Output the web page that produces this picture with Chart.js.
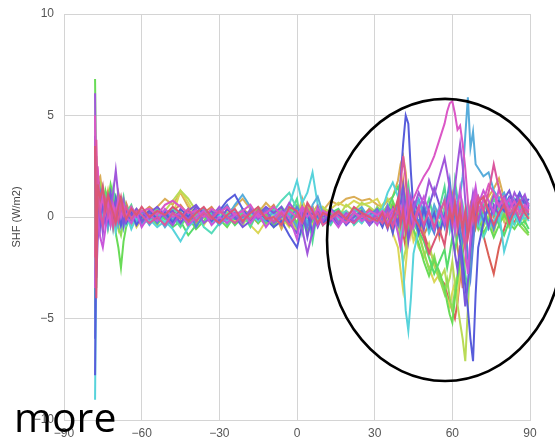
<!DOCTYPE html>
<html>
<head>
<meta charset="utf-8">
<script src="https://cdn.jsdelivr.net/npm/chart.js@4/dist/chart.umd.min.js"></script>
<style>
html,body{margin:0;padding:0;background:#fff;}
#wrap{position:relative;width:555px;height:442px;}
</style>
</head>
<body>
<div id="wrap"><canvas id="c" width="555" height="442"></canvas></div>
<script>
// Latitude (degrees) shared by every series
const lats = [
  -78,-77.5,-77,-76,-75,-74,-73,-72,-71,-70,-69,-68,-67,-66,-64,-62,-60,
  -57,-54,-51,-48,-45,-42,-39,-36,-33,-30,-27,-24,-21,-18,-15,-12,-9,-6,-3,0,2,4,6,8,10,13,16,19,22,25,28,31,
  33,35,37,39,40,41,42,43,44,45, 47,49,51,53,55,57, 58,59,60,61,62,63,64,65,66,67,68,69,70, 72,74,76,78,80,82,84,86,88, 89.5
];
const xTicks = [-90,-60,-30,0,30,60,90];
const yTicks = [-10,-5,0,5,10];

// SHF (W/m2) series
const s00 = [-3.0,1.5,2.2,1.2,0.6,0.9,0.2,0.6,-0.3,0.4,-0.2,0.3,-0.5,0.2,-0.3,0.2,0.0,
  0.3,-0.2,0.1,0.4,0.0,-0.3,0.2,0.1,-0.2,0.3,0.0,0.2,-0.3,0.1,0.4,0.0,0.2,-0.2,0.5,-0.4,0.3,0.6,-0.3,0.2,0.4,0.0,0.3,-0.1,0.2,0.0,0.4,0.1,
  0.3,-0.2,0.6,-0.5,-1.2,-0.8,-1.5,-0.6,0.3,-0.4, 0.5,-0.8,-1.6,-2.2,-3.0,-3.3, -3.8,-4.2,-4.6,-5.0,-4.2,-3.0,-1.8,-0.9,-0.2,0.5,-0.6,0.2,-0.4, -0.9,-1.9,-2.8,-1.5,-0.6,0.2,-0.3,0.4,0.1, 0.3];
const s01 = [3.0,-1.0,1.8,2.0,1.0,0.6,1.3,0.5,0.9,0.2,0.6,-0.2,0.4,0.1,0.3,-0.1,0.2,
  0.1,0.5,0.9,0.6,1.2,0.5,0.2,0.4,0.0,-0.3,0.2,0.5,0.9,0.4,0.2,0.7,0.3,-0.6,0.2,0.4,-0.2,0.5,0.2,0.6,0.3,0.8,0.6,0.9,1.0,0.8,0.9,0.6,
  0.5,0.8,1.0,1.8,2.6,3.0,2.2,0.5,-0.8,0.2, -0.5,0.3,-0.6,0.2,-0.4,0.5, -0.2,0.6,-0.5,0.3,-0.2,0.7,0.1,-0.6,0.4,-0.3,0.5,0.0,0.8, 0.4,1.0,1.4,1.9,0.9,0.4,0.7,0.2,0.5, 0.0];
const s02 = [-2.5,2.0,1.0,0.4,1.1,0.3,0.8,-0.2,0.5,-0.4,0.3,0.6,0.0,-0.3,0.2,-0.5,-0.1,
  -0.3,0.2,-0.4,0.1,1.3,0.7,0.0,-0.4,0.2,-0.1,0.3,-0.2,0.1,-0.4,-0.8,-0.2,0.3,0.0,-0.5,0.2,0.8,0.1,-0.4,0.3,0.0,0.4,0.7,0.5,0.8,0.6,0.7,0.9,
  0.4,0.0,-0.8,-1.5,-2.6,-3.6,-2.4,-1.0,-0.3,-1.2, -0.6,-1.8,-2.5,-3.2,-2.8,-3.6, -4.0,-4.4,-3.7,-3.2,-4.0,-2.5,-1.4,-0.5,0.3,-0.4,0.2,-0.3,0.5, -0.2,0.6,1.2,1.0,0.3,-0.2,0.4,-0.3,0.2, -0.1];
const s03 = [1.0,-2.0,0.5,1.4,0.2,0.7,-0.4,0.9,0.3,0.0,-0.6,0.2,-0.3,0.5,0.0,0.3,-0.2,
  0.4,0.0,0.3,0.8,1.3,0.9,0.3,0.0,-0.3,0.1,-0.2,0.3,-0.4,0.2,0.0,-0.4,0.1,0.4,-0.1,-0.7,0.1,-0.4,0.3,-0.2,0.5,0.2,0.0,0.6,0.3,0.7,0.5,0.2,
  0.6,0.9,0.3,-0.6,-1.4,-2.2,-1.6,-0.4,0.2,-0.7, -1.5,-2.0,-1.3,-2.4,-3.1,-2.6, -3.4,-3.0,-2.2,-3.3,-4.3,-5.2,-6.0,-7.1,-4.5,-2.0,-1.0,-0.4,0.2, -0.5,0.1,-0.8,0.3,-0.2,0.5,0.0,0.3,-0.3, 0.2];
const s04 = [-1.5,3.0,0.8,1.5,0.6,1.2,0.4,1.0,0.0,0.5,-0.5,-0.9,-0.2,0.3,-0.4,0.1,-0.3,
  0.0,-0.4,0.2,-0.2,0.3,-0.5,0.1,0.3,-0.1,0.4,0.1,-0.3,0.2,0.0,0.5,0.2,-0.4,0.3,0.0,0.6,-0.5,0.2,0.5,-0.1,0.3,-0.3,0.2,0.0,0.4,0.1,-0.2,0.5,
  0.2,0.6,-0.2,0.4,-0.8,-0.3,0.6,-0.5,0.8,0.1, -0.9,-1.7,-2.6,-1.9,-3.0,-3.8, -3.1,-4.0,-4.6,-3.6,-2.8,-1.9,-1.0,-0.3,0.6,-0.4,0.3,-0.2,-0.6, 0.2,-0.4,0.5,-0.3,0.2,-0.5,0.3,-0.4,-0.7, -0.9];
const s05 = [6.8,0.5,-0.5,1.0,0.3,1.3,0.8,1.6,1.0,-0.8,-1.5,-2.5,-1.2,-0.5,0.2,-0.3,0.1,
  -0.2,0.3,-0.1,0.2,-0.4,0.0,-0.6,-0.2,0.2,-0.1,-0.5,0.1,-0.2,0.3,-0.3,0.1,-0.5,0.2,0.4,-0.3,0.5,-0.8,0.0,0.4,-0.2,0.3,-0.1,0.2,-0.3,0.4,0.0,-0.2,
  0.3,-0.4,0.8,0.1,-0.5,0.4,-0.9,-0.2,0.5,-0.6, -1.3,-2.2,-2.9,-2.1,-2.7,-3.5, -4.2,-4.8,-5.2,-4.0,-3.1,-2.2,-1.1,-0.4,0.3,-0.6,0.2,-0.5,0.1, -0.8,-0.3,-1.0,-0.4,0.1,-0.3,-0.6,-0.2,-0.5, -0.8];
const s06 = [-4.0,2.5,1.2,0.5,1.4,0.6,0.9,0.1,0.6,1.0,0.3,0.7,-0.3,0.4,-0.2,0.3,-0.1,
  0.2,-0.3,0.0,-0.5,-0.2,-0.9,-0.4,0.0,0.3,-0.2,0.1,-0.4,0.0,0.3,0.1,-0.3,0.4,0.1,-0.4,0.3,0.0,0.4,-0.2,0.1,-0.4,0.2,0.4,-0.2,0.1,-0.3,0.3,0.0,
  -0.3,0.4,1.0,1.5,0.8,1.2,0.2,-0.8,-0.2,0.5, -0.7,-1.2,-2.0,-2.8,-2.2,-1.6, -2.5,-1.8,-1.0,-1.7,-0.9,-0.2,0.4,-0.3,0.5,-0.1,0.6,0.0,-0.5, 0.3,-0.2,0.4,-0.4,-0.9,-0.2,0.2,-0.4,-0.2, -0.6];
const s07 = [2.0,-3.5,0.3,0.9,-0.4,0.5,0.0,0.4,-0.6,0.2,0.6,-0.1,0.3,-0.4,0.1,-0.2,0.3,
  0.0,0.2,-0.3,0.4,0.1,-0.2,0.3,-0.5,-0.8,-0.3,0.2,0.0,0.4,-0.1,0.2,-0.2,0.3,0.8,1.2,0.4,-0.3,0.2,-0.6,0.0,0.3,-0.2,0.1,0.3,-0.4,0.0,0.2,-0.3,
  0.0,0.3,-0.3,0.6,1.1,0.4,-0.4,0.3,-0.6,0.2, 0.8,0.0,-0.7,0.3,-0.5,0.4, -0.3,0.8,0.1,-0.8,0.3,-0.4,0.6,-0.2,0.4,-0.7,0.0,0.6,-0.3, -1.0,-0.4,0.3,-0.2,0.5,0.0,-0.4,0.2,-0.1, 0.1];
const s08 = [-9.0,-1.0,0.2,-0.6,0.4,-0.2,0.6,-0.4,0.3,-0.7,0.0,0.4,-0.5,0.2,-0.6,0.0,-0.4,
  -0.1,-0.5,-0.2,-0.6,-1.2,-0.5,-0.1,0.2,-0.3,0.1,-0.2,0.3,-0.1,0.2,-0.2,0.4,0.1,-0.3,0.6,1.8,0.7,1.2,2.2,0.6,-0.2,0.3,-0.1,0.2,0.0,-0.3,0.2,-0.1,
  0.4,1.2,1.7,1.0,-0.5,-2.5,-4.6,-5.6,-4.0,-1.8, -0.6,0.3,-0.8,-0.2,0.5,-0.4, 0.2,-0.6,0.3,-0.3,0.5,-0.2,0.2,-0.8,-0.3,0.4,-0.5,0.2,-0.4, 0.1,-0.6,-0.2,0.3,-1.7,-0.8,0.1,-0.3,0.2, -0.2];
const s09 = [-5.0,1.0,-0.6,0.3,-0.3,0.4,-0.5,0.1,-0.2,0.5,-0.4,0.1,0.5,-0.2,0.3,-0.3,0.2,
  -0.4,0.1,-0.5,0.0,-0.3,0.2,-0.2,0.4,0.1,-0.4,0.0,0.6,1.1,0.5,0.0,-0.2,0.3,-0.4,0.2,-0.5,0.3,-0.3,0.6,1.0,0.2,-0.3,0.3,-0.2,0.2,0.5,-0.1,0.3,
  -0.2,0.6,0.0,0.7,1.4,0.6,-0.3,0.5,-0.5,0.3, 0.9,0.2,-0.4,0.6,0.0,0.9, 0.3,1.2,0.5,1.4,0.8,1.1,2.0,4.0,5.9,3.4,4.2,2.6,2.4, 2.0,2.2,1.3,0.9,1.2,0.6,0.9,0.4,1.0, 0.6];
const s10 = [-7.8,0.4,-0.9,0.1,-0.5,0.3,-0.2,0.5,0.0,0.9,0.2,-0.4,0.1,-0.3,0.2,-0.4,0.0,
  0.3,-0.1,0.2,-0.3,0.4,0.0,0.5,0.2,-0.2,0.3,0.8,1.1,0.4,-0.2,0.3,-0.1,-0.5,-0.2,-0.9,-1.5,-0.4,0.2,-0.8,0.3,-0.3,0.1,-0.4,0.0,-0.3,0.2,-0.4,0.0,
  -0.5,0.2,-0.8,0.5,1.8,3.6,5.0,4.6,2.2,0.3, -0.8,0.4,-0.5,0.2,-0.8,0.1, -0.5,0.4,-0.3,0.6,-0.4,-1.2,-2.2,-3.4,-4.5,-6.0,-7.1,-3.8,-1.5, -0.3,0.6,0.2,0.8,0.3,1.0,0.7,1.2,0.6, 0.9];
const s11 = [4.0,-2.5,0.6,-0.4,0.8,-0.1,0.5,1.2,0.4,0.8,0.0,0.5,-0.4,0.3,0.1,0.4,-0.2,
  0.2,0.5,0.1,0.3,-0.3,0.3,0.6,0.1,0.3,-0.2,0.4,0.0,-0.5,-0.2,0.1,0.5,0.2,0.5,-0.3,-0.8,0.4,-1.0,0.2,-0.5,0.1,-0.2,0.2,-0.4,0.0,0.3,-0.3,0.2,
  0.1,-0.6,0.4,-0.3,0.6,1.5,0.4,-1.2,-0.4,0.8, 0.2,-0.6,0.5,1.4,0.6,-0.4, 0.8,0.1,-0.8,-1.8,-2.6,-1.4,-3.0,-4.4,-3.2,-1.6,-0.5,0.3,1.0, 0.4,-0.5,0.6,0.1,0.9,1.3,0.5,1.1,0.8, 0.4];
const s12 = [6.1,-3.0,-1.2,0.5,-0.8,0.4,1.0,0.3,1.2,2.3,1.0,0.2,0.8,-0.2,0.4,0.0,0.3,
  -0.1,0.3,0.0,-0.4,0.2,-0.1,0.4,-0.3,0.0,0.5,-0.1,0.2,-0.3,0.4,-0.1,0.3,-0.3,0.0,0.7,0.2,-0.6,-1.8,-0.7,0.5,-0.2,0.4,-0.3,0.2,-0.2,0.1,-0.4,0.3,
  -0.1,0.5,-0.4,0.3,-0.2,0.8,-0.5,0.2,1.0,0.4, 1.2,0.6,1.8,1.1,2.0,2.9, 2.2,1.4,0.6,1.5,2.6,3.6,2.5,0.8,-0.6,0.3,1.2,0.5,-0.2, 0.9,0.3,1.1,0.6,1.0,0.4,1.2,0.7,1.1, 0.5];
const s13 = [-3.5,2.0,0.0,-1.0,-1.5,-0.6,0.2,-0.4,0.5,-0.2,0.6,0.0,0.4,0.0,-0.3,0.2,-0.5,
  0.1,-0.2,0.4,0.0,0.2,-0.4,0.0,0.3,-0.4,0.0,-0.3,0.1,0.3,-0.3,0.2,-0.5,0.0,0.3,0.0,-1.1,0.4,0.0,0.4,-0.4,0.3,0.0,-0.5,0.1,0.3,-0.2,0.1,-0.4,
  0.2,-0.3,0.2,-0.8,-1.5,-0.6,0.4,1.2,0.3,-0.5, 0.4,1.0,0.2,-0.6,0.4,-0.3, 0.6,1.2,0.2,-0.7,0.5,1.4,0.2,-1.6,-2.8,-1.0,0.8,1.5,0.6, 1.3,0.8,0.2,1.4,0.5,0.9,0.2,0.8,0.3, 0.7];
const s14 = [5.0,0.0,2.5,0.3,1.0,0.2,0.7,-0.3,0.6,0.1,0.9,0.4,0.6,0.0,0.5,0.1,0.3,
  0.4,0.1,0.6,0.8,0.5,0.2,0.3,0.0,0.4,0.2,0.5,0.1,0.3,0.6,0.0,0.2,0.5,0.1,0.3,0.0,0.5,0.3,0.0,0.4,0.1,0.3,0.0,-0.3,0.2,0.0,0.3,0.1,
  0.3,0.0,0.4,0.2,0.5,0.0,-0.4,0.3,0.6,0.9, 1.5,2.0,2.4,3.0,3.8,4.6, 5.2,5.6,5.7,5.1,4.3,4.5,3.6,2.4,0.8,-0.5,0.4,1.0,0.3, 0.8,1.6,1.2,0.5,0.9,0.3,0.8,0.2,0.6, 0.3];
const s15 = [-2.0,3.8,0.9,0.2,-0.4,0.8,0.1,0.6,-0.5,0.3,-0.2,0.6,0.1,0.5,-0.1,0.3,0.1,
  -0.3,0.0,-0.4,0.2,-0.1,0.4,-0.2,0.2,-0.1,0.3,0.0,-0.3,0.1,-0.1,0.3,0.0,-0.2,0.2,-0.4,0.1,-0.3,0.4,-0.1,0.2,-0.4,-0.1,0.2,-0.1,-0.3,0.1,-0.2,0.0,
  -0.3,0.2,-0.5,0.4,1.6,3.0,1.8,0.2,-0.7,-0.2, 0.5,-0.4,0.3,-0.5,0.2,0.8, -0.4,0.5,-0.3,0.8,-0.6,0.2,-0.8,-1.4,-0.6,0.4,-0.2,0.6,1.0, 0.3,1.2,2.6,1.4,0.6,0.1,0.5,-0.1,0.4, 0.2];
const s16 = [-4.5,1.2,0.4,-0.3,0.9,1.1,0.3,-0.2,0.8,0.4,1.2,0.6,0.2,0.7,0.0,0.4,0.2,
  0.5,0.2,-0.1,0.3,0.6,0.1,-0.3,0.2,0.5,0.0,0.3,-0.2,0.4,0.1,-0.3,0.2,0.6,-0.1,0.2,-0.6,0.9,0.0,0.5,-0.2,0.4,0.1,-0.2,0.3,0.0,-0.2,0.4,0.2,
  0.0,-0.4,0.3,-0.2,0.8,1.8,0.6,-0.9,0.4,-0.3, 0.2,-0.9,-0.3,0.5,-1.0,0.3, -0.6,0.2,1.0,-0.5,-1.5,-2.4,-3.5,-2.0,-0.8,0.5,-0.3,0.9,0.2, -0.4,0.7,0.0,0.6,-0.2,0.8,0.3,0.6,0.1, 0.4];
const s17 = [2.8,-1.8,1.4,0.7,0.0,0.9,-0.5,0.3,1.4,0.6,-0.3,0.4,1.0,0.2,0.6,-0.2,0.1,
  -0.2,0.4,0.2,0.0,-0.5,0.3,0.1,-0.3,0.2,0.4,-0.4,0.0,0.2,-0.5,0.3,0.0,-0.2,0.5,0.1,0.9,-0.8,0.3,-1.2,0.4,0.0,-0.4,0.3,0.0,0.4,0.1,-0.1,0.3,
  0.4,0.1,-0.2,0.7,0.2,-0.6,0.9,1.6,0.5,-0.3, -0.8,0.1,0.9,-0.2,0.4,1.5, 0.5,-0.6,0.3,1.8,0.9,-0.5,-1.8,-2.8,-3.6,-2.2,-0.9,0.4,-0.2, 0.6,0.2,0.9,0.4,0.7,0.0,0.6,0.9,0.3, 0.6];
const s18 = [-6.0,0.8,-0.4,1.2,0.4,-0.2,0.6,0.9,-0.1,0.3,0.7,-0.4,0.2,0.5,-0.2,0.3,-0.3,
  0.2,-0.3,0.3,-0.2,0.0,0.4,-0.5,0.1,-0.2,0.2,0.6,-0.1,0.0,0.3,-0.1,0.4,-0.3,0.2,-0.2,0.5,0.1,-0.5,0.2,0.0,-0.3,0.4,0.1,-0.2,0.2,-0.1,0.1,0.4,
  -0.1,0.5,0.2,-0.4,0.4,-0.2,0.3,0.8,-0.2,0.5, -0.3,0.6,-0.2,-0.8,0.3,-0.5, 0.9,1.8,0.6,-0.4,0.8,-0.6,-1.2,-0.3,-2.0,-3.0,-1.4,0.2,0.6, -0.2,0.4,-0.6,0.2,0.5,-0.1,0.4,-0.2,0.5, 0.1];
const s19 = [3.5,-4.0,1.6,0.9,1.5,0.4,1.1,0.6,0.2,-0.3,0.5,1.0,0.3,-0.1,0.4,0.1,0.5,
  0.0,0.3,0.1,0.5,0.2,-0.2,0.2,0.5,0.0,-0.3,0.1,0.4,-0.2,0.2,0.5,-0.1,0.0,-0.4,0.5,0.3,-0.2,0.7,0.3,-0.3,0.2,0.0,0.3,-0.1,0.5,0.2,0.0,-0.2,
  0.2,-0.5,0.0,0.9,-0.4,0.3,-0.8,-0.2,0.6,0.0, -0.4,-1.0,-1.8,-1.2,-0.6,-1.4, -0.5,0.3,-0.2,0.6,-0.3,0.4,-0.6,0.3,-1.0,-0.2,0.5,-0.4,0.7, 1.0,0.3,-0.4,0.2,0.6,-0.3,0.3,0.8,0.2, -0.1];

// Series in palette order (first = red hue, last = pink hue)
const seriesList = [s00,s16,s01,s02,s03,s04,s05,s06,s17,s07,s08,s09,s18,s10,s11,s12,s13,s14,s15,s19];
const n = seriesList.length;
// seaborn "hls" palette: evenly spaced hues, l=0.6, s=0.65
const colors = seriesList.map((_, i) => `hsl(${(3.6 + i * 360 / n).toFixed(1)}, 65%, 60%)`);

const datasets = seriesList.map((s, i) => ({
  label: 'run ' + (i + 1),
  data: lats.map((x, j) => ({ x: x, y: s[j] })),
  borderColor: colors[i],
  backgroundColor: colors[i],
  borderWidth: 2,
  pointRadius: 0,
  tension: 0,
  fill: false,
  order: n - 1 - i
}));

const minus = v => String(v).replace('-', '\u2212');

const annot = {
  id: 'annot',
  afterDraw(chart) {
    const ctx = chart.ctx;
    const xs = chart.scales.x, ys = chart.scales.y;
    const cx = xs.getPixelForValue(57.2), cy = ys.getPixelForValue(-1.13);
    const rx = xs.getPixelForValue(57.2 + 45.6) - cx;
    const ry = ys.getPixelForValue(-1.13 - 6.95) - cy;
    ctx.save();
    ctx.beginPath();
    ctx.ellipse(cx, cy, rx, ry, 0, 0, Math.PI * 2);
    ctx.strokeStyle = '#000';
    ctx.lineWidth = 2.6;
    ctx.stroke();
    ctx.fillStyle = '#000';
    ctx.font = '41px "Open Sans"';
    ctx.textBaseline = 'alphabetic';
    ctx.fillText('more', 14, 432);
    ctx.restore();
  }
};
const bg = {
  id: 'bg',
  beforeDraw(chart) {
    const ctx = chart.ctx;
    ctx.save();
    ctx.fillStyle = '#fff';
    ctx.fillRect(0, 0, chart.width, chart.height);
    ctx.restore();
  }
};

new Chart(document.getElementById('c'), {
  type: 'line',
  data: { datasets },
  options: {
    responsive: false,
    animation: false,
    devicePixelRatio: 1,
    layout: { padding: { top: 14, right: 25, left: 0, bottom: 0 } },
    plugins: { legend: { display: false }, tooltip: { enabled: false } },
    scales: {
      x: {
        type: 'linear', min: -90, max: 90,
        afterBuildTicks: s => { s.ticks = xTicks.map(v => ({ value: v })); },
        afterFit: s => { s.height = 22; s.paddingLeft = 0; s.paddingRight = 0; },
        grid: { color: '#d4d4d4', lineWidth: 1, drawTicks: false },
        border: { display: true, color: '#d4d4d4' },
        ticks: { padding: 6, color: '#555', font: { family: 'Liberation Sans', size: 12 }, callback: minus, maxRotation: 0 }
      },
      y: {
        min: -10, max: 10,
        afterBuildTicks: s => { s.ticks = yTicks.map(v => ({ value: v })); },
        afterFit: s => { s.width = 64; s.paddingTop = 0; s.paddingBottom = 0; },
        grid: { color: '#d4d4d4', lineWidth: 1, drawTicks: false },
        border: { display: true, color: '#d4d4d4' },
        title: { display: true, text: 'SHF (W/m2)', color: '#444', font: { family: 'Liberation Sans', size: 11 }, padding: { top: 10, bottom: 0 } },
        ticks: { padding: 10, color: '#555', font: { family: 'Liberation Sans', size: 12 }, callback: minus }
      }
    }
  },
  plugins: [bg, annot]
});
</script>
</body>
</html>
